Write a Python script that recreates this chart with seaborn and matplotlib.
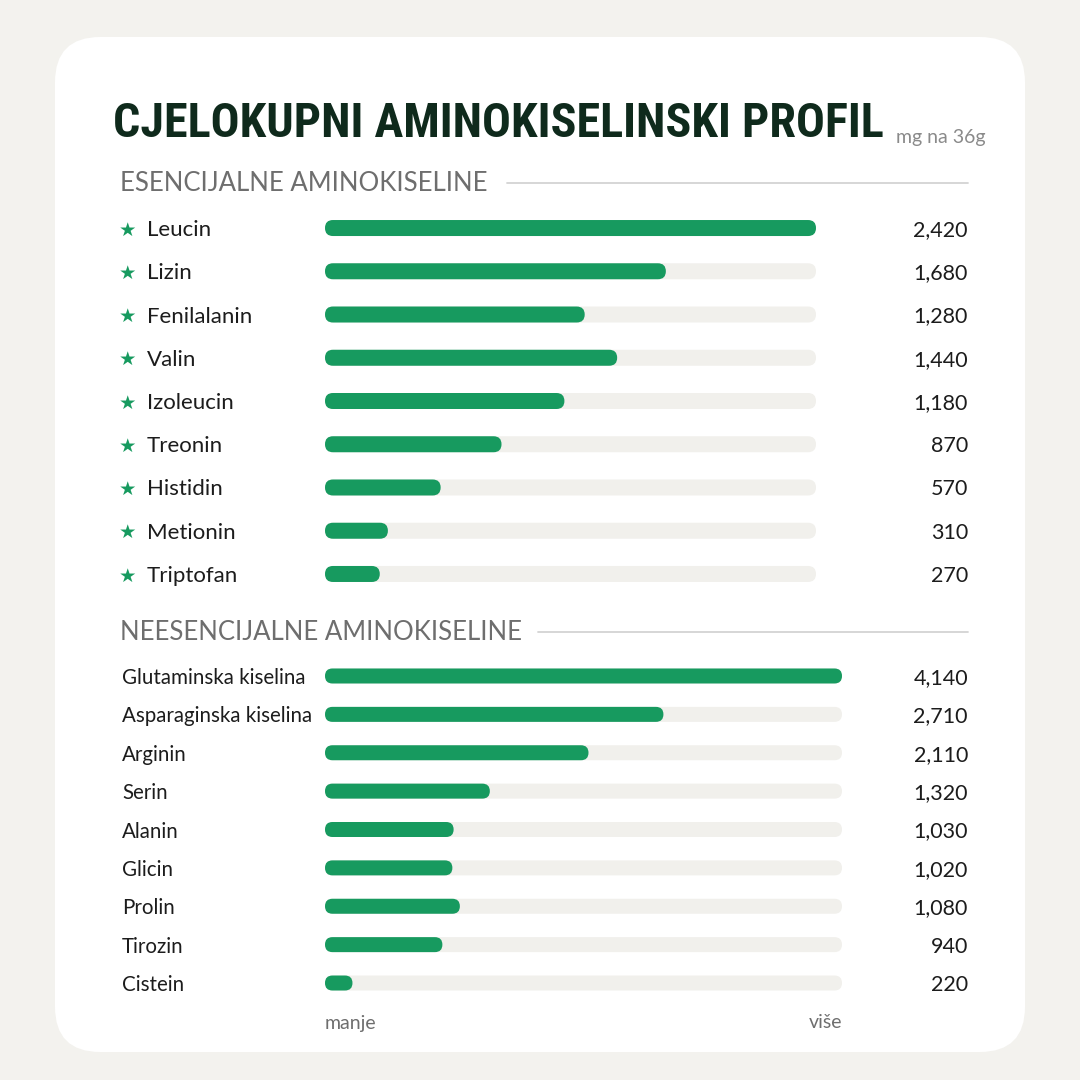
import matplotlib
matplotlib.use("Agg")
import matplotlib.pyplot as plt
from matplotlib import font_manager
from matplotlib.patches import FancyBboxPatch
import matplotlib.transforms as mtransforms
import pandas as pd
import seaborn as sns

# data
title = "CJELOKUPNI AMINOKISELINSKI PROFIL"
unit_note = "mg na 36g"
ess_header = "ESENCIJALNE AMINOKISELINE"
ness_header = "NEESENCIJALNE AMINOKISELINE"
ess_names = ["Leucin", "Lizin", "Fenilalanin", "Valin", "Izoleucin",
             "Treonin", "Histidin", "Metionin", "Triptofan"]
ess_values = [2420, 1680, 1280, 1440, 1180, 870, 570, 310, 270]
ness_names = ["Glutaminska kiselina", "Asparaginska kiselina", "Arginin", "Serin",
              "Alanin", "Glicin", "Prolin", "Tirozin", "Cistein"]
ness_values = [4140, 2710, 2110, 1320, 1030, 1020, 1080, 940, 220]
scale_low, scale_high = "manje", "više"

GREEN = "#179a5f"
TRACK = "#f1f0ec"
BG = "#f3f2ee"
DARK = "#0f2a1c"
GREY = "#6e6e6e"

sns.set_theme(style="white")
plt.rcParams["font.family"] = ["Lato", "DejaVu Sans"]

W = H = 1080
fig = plt.figure(figsize=(10.8, 10.8), dpi=100, facecolor=BG)


def fx(x):
    return x / W


def fy(y):
    return 1 - y / H


# white card, kept behind the axes
card = FancyBboxPatch((fx(55), fy(1052)), fx(1025) - fx(55), fy(37) - fy(1052),
                      boxstyle="round,pad=0,rounding_size=0.042",
                      transform=fig.transFigure, facecolor="white",
                      edgecolor="none", zorder=-5)
fig.patches.append(card)

# pick a condensed face for the title if one is there
names = {(f.name, f.stretch) for f in font_manager.fontManager.ttflist}
title_font = dict(family="DejaVu Sans", weight="bold")
for fam in ["Roboto Condensed", "Liberation Sans Narrow", "Open Sans Condensed"]:
    if any(n == fam for n, _ in names):
        title_font = dict(family=fam, weight="bold")
        break
else:
    if ("DejaVu Sans", "condensed") in names:
        title_font = dict(family="DejaVu Sans", weight="bold", stretch="condensed")

t = fig.text(fx(113), fy(137), title, color=DARK, fontsize=48, va="baseline",
             ha="left", **title_font)
fig.canvas.draw()
r = fig.canvas.get_renderer()
bb = t.get_window_extent(r)
target_w = 885 - 113
t.set_fontsize(min(48 * target_w / bb.width, 52))

fig.text(fx(985), fy(143), unit_note, color="#8a8a8a", fontsize=14,
         ha="right", va="baseline")

# nudge row texts down a couple of pixels
down = mtransforms.ScaledTranslation(0, -0.02, fig.dpi_scale_trans)


def section(names_, values, header, hy, line_x0, ax_box, bar_px, label_x,
            label_size, star):
    x0, x1, top, bottom = ax_box
    ax = fig.add_axes([fx(x0), fy(bottom), fx(x1) - fx(x0), fy(top) - fy(bottom)])
    ax.patch.set_alpha(0)
    n = len(names_)
    spacing = (bottom - top) / n
    vmax = max(values)
    df = pd.DataFrame({"name": names_, "value": values,
                       "track": [vmax] * n})
    w = bar_px / spacing
    sns.barplot(data=df, x="track", y="name", color=TRACK, width=w,
                saturation=1, ax=ax, orient="h")
    sns.barplot(data=df, x="value", y="name", color=GREEN, width=w,
                saturation=1, ax=ax, orient="h")
    ax.set_xlim(0, vmax)
    ax.set_ylim(n - 0.5, -0.5)
    ax.axis("off")

    # round the bar ends
    xupp = vmax / (x1 - x0)
    yupp = 1 / spacing
    for p in list(ax.patches):
        bx, by = p.get_x(), p.get_y()
        bw, bh = p.get_width(), p.get_height()
        fc = p.get_facecolor()
        p.remove()
        ax.add_patch(FancyBboxPatch(
            (bx, by), bw, bh,
            boxstyle=f"round,pad=0,rounding_size={bar_px / 2 * xupp}",
            mutation_aspect=yupp / xupp, facecolor=fc, edgecolor="none"))

    tr = mtransforms.blended_transform_factory(fig.transFigure, ax.transData) + down
    for i, (nm, v) in enumerate(zip(names_, values)):
        if star:
            ax.text(fx(127), i, "★", transform=tr, color=GREEN, fontsize=14,
                    ha="center", va="center", family="DejaVu Sans",
                    clip_on=False)
        ax.text(fx(label_x), i, nm, transform=tr, color="#1c1c1c",
                fontsize=label_size, ha="left", va="center", clip_on=False)
        ax.text(fx(968), i, f"{v:,}", transform=tr, color="#1c1c1c",
                fontsize=15.5, ha="right", va="center", clip_on=False)

    fig.text(fx(120), fy(hy), header, color=GREY, fontsize=18.5, ha="left",
             va="center")
    fig.add_artist(plt.Line2D([fx(line_x0), fx(968)], [fy(hy), fy(hy)],
                              color="#d3d3d3", lw=1.3,
                              transform=fig.transFigure))
    return ax


section(ess_names, ess_values, ess_header, 183, 507,
        (325, 816, 228 - 21.6, 574 + 21.6), 16, 147, 16, True)
section(ness_names, ness_values, ness_header, 632, 538,
        (325, 842, 676 - 19.2, 983 + 19.2), 15, 122, 14.8, False)

fig.text(fx(325), fy(1023), scale_low, color=GREY, fontsize=14,
         ha="left", va="center")
fig.text(fx(842), fy(1023), scale_high, color=GREY, fontsize=14,
         ha="right", va="center")

fig.savefig("out.png", dpi=100, facecolor=BG)
